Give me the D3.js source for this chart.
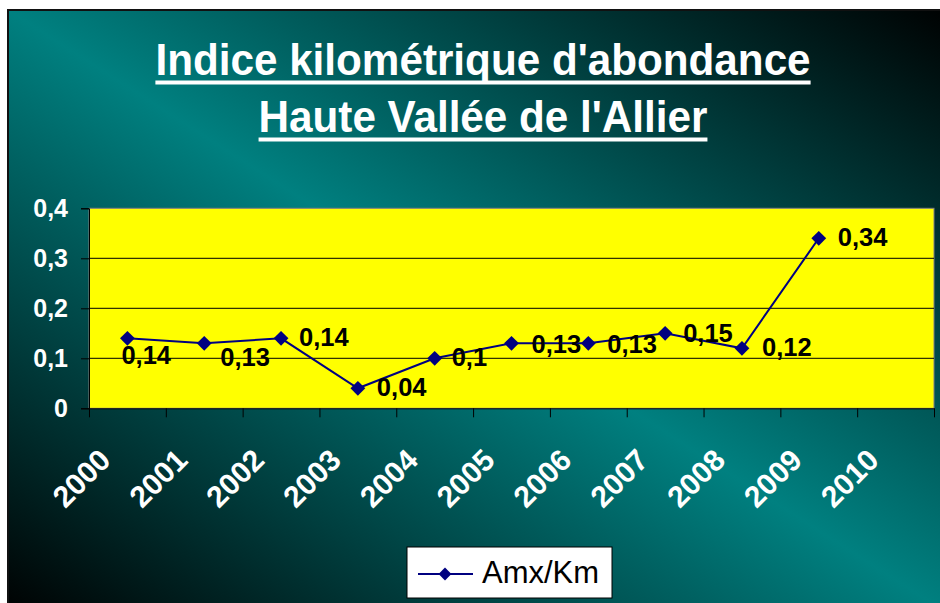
<!DOCTYPE html>
<html><head><meta charset="utf-8">
<script src="https://cdn.jsdelivr.net/npm/d3@7"></script>
<style>html,body{margin:0;padding:0;background:#fff;overflow:hidden}</style>
</head><body>
<svg id="chart" width="940" height="603"></svg>
<script>
// ---- data ----
const years = ["2000","2001","2002","2003","2004","2005","2006","2007","2008","2009","2010"];
const values = [0.14, 0.13, 0.14, 0.04, 0.1, 0.13, 0.13, 0.15, 0.12, 0.34];
const yTicks = [0, 0.1, 0.2, 0.3, 0.4];
const titleLines = ["Indice kilométrique d'abondance", "Haute Vallée de l'Allier"];
const seriesName = "Amx/Km";
// label placement offsets (dx, dy) relative to each point (styling)
const labelOffsets = [[-6,26],[16,23],[18,8],[19,8],[17,8],[20,10],[19,10],[18,9],[20,8],[19,8]];

const FONT = "'Liberation Sans', Arial, Helvetica, sans-serif";
const svg = d3.select("#chart");

// background gradient
const defs = svg.append("defs");
const grad = defs.append("linearGradient").attr("id","bg")
  .attr("x1",0).attr("y1",1).attr("x2",1).attr("y2",0);
grad.append("stop").attr("offset",0).attr("stop-color","#000000");
grad.append("stop").attr("offset",0.5).attr("stop-color","#008080");
grad.append("stop").attr("offset",1).attr("stop-color","#000000");

svg.append("rect").attr("x",8).attr("y",10).attr("width",950).attr("height",610)
  .attr("fill","url(#bg)").attr("stroke","#111").attr("stroke-width",2);

// title
const cx = 483;
const baselines = [75, 132];
titleLines.forEach((t,i)=>{
  const tx = svg.append("text").attr("transform",`translate(${cx},${baselines[i]}) scale(0.96,1)`)
    .attr("text-anchor","middle").attr("fill","#fff")
    .attr("font-family",FONT).attr("font-weight","bold").attr("font-size",44)
    .text(t);
  const w = tx.node().getComputedTextLength()*0.96;
  svg.append("rect").attr("x",cx-w/2).attr("y",baselines[i]+5.5)
    .attr("width",w).attr("height",4).attr("fill","#fff");
});

// scales
const x = d3.scaleBand().domain(years).range([89, 934]).padding(0);
const xi = d3.scaleLinear().domain([0, years.length]).range([89, 934]);
const y = d3.scaleLinear().domain([0, 0.4]).range([408.3, 208.3]);

// plot area
svg.append("rect").attr("x",89).attr("y",y(0.4)).attr("width",934-89).attr("height",y(0)-y(0.4))
  .attr("fill","#ffff00").attr("stroke","#808080").attr("stroke-width",1);

// gridlines
svg.append("g").selectAll("line").data(yTicks.filter(d=>d>0 && d<0.4)).join("line")
  .attr("x1",89).attr("x2",934).attr("y1",d=>y(d)).attr("y2",d=>y(d))
  .attr("stroke","#000").attr("stroke-width",1);

const fmt = d => d===0 ? "0" : String(+d.toFixed(2)).replace(".", ",");

// y axis
const yAxis = svg.append("g").attr("transform","translate(89,0)")
  .call(d3.axisLeft(y).tickValues(yTicks).tickFormat(fmt).tickSize(8).tickPadding(13));
yAxis.select(".domain").attr("stroke","#000");
yAxis.selectAll(".tick line").attr("stroke","#000");
yAxis.selectAll(".tick text").attr("fill","#fff").attr("font-family",FONT)
  .attr("font-weight","bold").attr("font-size",25);

// x axis (ticks at category boundaries)
const xAxis = svg.append("g").attr("transform",`translate(0,${y(0)})`)
  .call(d3.axisBottom(xi).tickValues(d3.range(years.length+1)).tickFormat("").tickSize(9).tickSizeOuter(0));
xAxis.select(".domain").attr("stroke","#000");
xAxis.selectAll(".tick line").attr("stroke","#000");

svg.append("g").selectAll("text").data(years).join("text")
  .attr("transform",d=>`translate(${x(d)+x.bandwidth()/2-15},462) rotate(-45)`)
  .attr("text-anchor","end").attr("fill","#fff").attr("font-family",FONT)
  .attr("font-weight","bold").attr("font-size",30).text(d=>d);

// line
const pts = values.map((v,i)=>({year:years[i], v, i}));
const cxp = d => x(d.year)+x.bandwidth()/2;
svg.append("path").datum(pts)
  .attr("d", d3.line().x(cxp).y(d=>y(d.v)))
  .attr("fill","none").attr("stroke","#000080").attr("stroke-width",2);

const diamond = d3.symbol().type(d3.symbolDiamond2).size(140);
svg.append("g").selectAll("path").data(pts).join("path")
  .attr("d", diamond).attr("transform", d=>`translate(${cxp(d)},${y(d.v)})`)
  .attr("fill","#000080");

// data labels
svg.append("g").selectAll("text").data(pts).join("text")
  .attr("x", d=>cxp(d)+labelOffsets[d.i][0]).attr("y", d=>y(d.v)+labelOffsets[d.i][1])
  .attr("fill","#000").attr("font-family",FONT).attr("font-weight","bold").attr("font-size",25.5)
  .text(d=>fmt(d.v));

// legend
const lg = svg.append("g");
lg.append("rect").attr("x",407).attr("y",547).attr("width",205).attr("height",51)
  .attr("fill","#fff").attr("stroke","#000").attr("stroke-width",1);
lg.append("line").attr("x1",418).attr("x2",473).attr("y1",574).attr("y2",574)
  .attr("stroke","#000080").attr("stroke-width",2);
lg.append("path").attr("d", d3.symbol().type(d3.symbolDiamond2).size(105))
  .attr("transform","translate(445,574)").attr("fill","#000080");
lg.append("text").attr("x",482).attr("y",583).attr("fill","#000")
  .attr("font-family",FONT).attr("font-size",31).text(seriesName);
</script>
</body></html>
